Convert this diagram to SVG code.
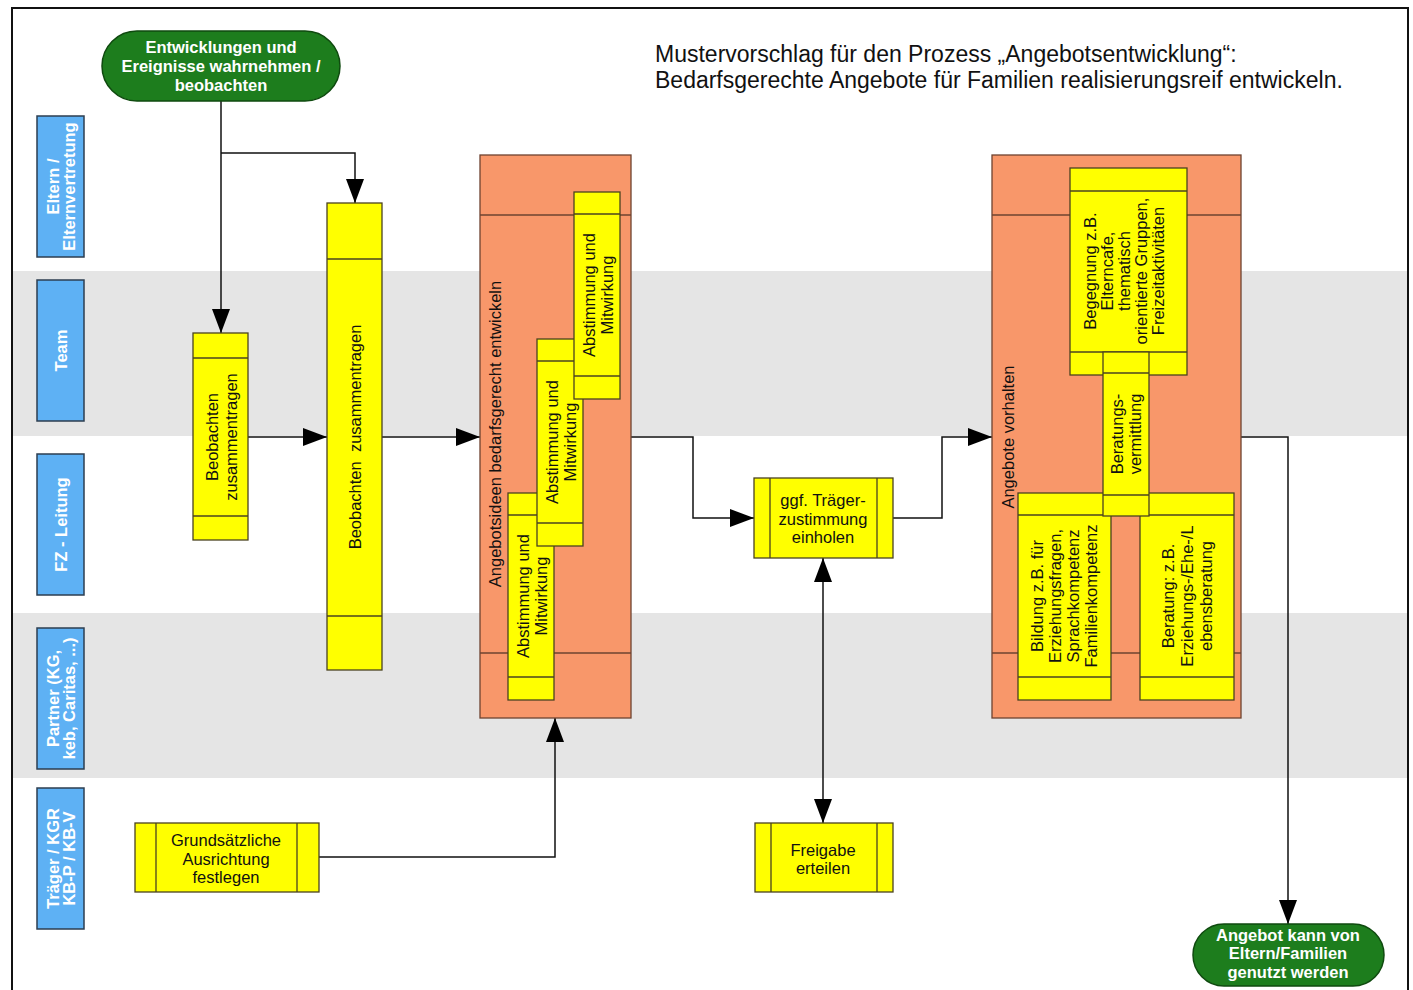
<svg xmlns="http://www.w3.org/2000/svg" width="1413" height="990" viewBox="0 0 1413 990">
<style>
.band{fill:#e5e5e5}
.lane{fill:#5eb1f4;stroke:#2d3e50;stroke-width:1.5}
.lt{font:bold 16.5px "Liberation Sans",Arial,sans-serif;fill:#fff;text-anchor:middle}
.box{fill:#ffff00;stroke:#4a4320;stroke-width:1.3}
.il{stroke:#4a4320;stroke-width:1.3}
.org{fill:#f8976a;stroke:#6e4330;stroke-width:1.3}
.ol{stroke:#6e4330;stroke-width:1.3}
.t{font:16.5px "Liberation Sans",Arial,sans-serif;fill:#111;text-anchor:middle}
.oval{fill:#1d7d1d;stroke:#0f4a0f;stroke-width:1.5}
.ot{font:bold 16.5px "Liberation Sans",Arial,sans-serif;fill:#fff;text-anchor:middle}
.title{font:23px "Liberation Sans",Arial,sans-serif;fill:#111}
.c{stroke:#111;stroke-width:1.5;fill:none}
</style>
<defs>
<marker id="ah" markerUnits="userSpaceOnUse" markerWidth="24" markerHeight="18" refX="24" refY="9" orient="auto-start-reverse" viewBox="0 0 24 18">
<path d="M0,0 L24,9 L0,18 z" fill="#000"/>
</marker>
</defs>
<rect x="0" y="0" width="1413" height="990" fill="#fff"/>
<g id="lanes-bg">
<rect class="band" x="13" y="271" width="1394" height="165"/>
<rect class="band" x="13" y="613" width="1394" height="165"/>
<rect x="12" y="8" width="1396" height="1000" fill="none" stroke="#111" stroke-width="2"/>
</g>
<g id="lane-eltern">
<rect class="lane" x="37" y="116" width="47" height="141"/>
<text class="lt" transform="translate(61,186.5) rotate(-90)"><tspan x="0" y="-2.4">Eltern /</tspan><tspan x="0" y="14">Elternvertretung</tspan></text>
</g>
<g id="lane-team">
<rect class="lane" x="37" y="280" width="47" height="141"/>
<text class="lt" transform="translate(61,350.5) rotate(-90)"><tspan x="0" y="5.8">Team</tspan></text>
</g>
<g id="lane-fz">
<rect class="lane" x="37" y="454" width="47" height="141"/>
<text class="lt" transform="translate(61,524.5) rotate(-90)"><tspan x="0" y="5.8">FZ - Leitung</tspan></text>
</g>
<g id="lane-partner">
<rect class="lane" x="37" y="628" width="47" height="141"/>
<text class="lt" transform="translate(61,698.5) rotate(-90)"><tspan x="0" y="-2.4">Partner (KG,</tspan><tspan x="0" y="14">keb, Caritas, ...)</tspan></text>
</g>
<g id="lane-traeger">
<rect class="lane" x="37" y="788" width="47" height="141"/>
<text class="lt" transform="translate(61,858.5) rotate(-90)"><tspan x="0" y="-2.4">Träger / KGR</tspan><tspan x="0" y="14">KB-P / KB-V</tspan></text>
</g>
<g id="title">
<text class="title" x="655" y="62">Mustervorschlag für den Prozess „Angebotsentwicklung“:</text>
<text class="title" x="655" y="88">Bedarfsgerechte Angebote für Familien realisierungsreif entwickeln.</text>
</g>
<g id="connectors">
<path class="c" d="M221,101 V333" marker-end="url(#ah)"/>
<path class="c" d="M221,153 H355 V203" marker-end="url(#ah)"/>
<path class="c" d="M248,437 H327" marker-end="url(#ah)"/>
<path class="c" d="M382,437 H480" marker-end="url(#ah)"/>
<path class="c" d="M631,437 H693 V518 H754" marker-end="url(#ah)"/>
<path class="c" d="M893,518 H942 V437 H992" marker-end="url(#ah)"/>
<path class="c" d="M823,558 V823" marker-start="url(#ah)" marker-end="url(#ah)"/>
<path class="c" d="M319,857 H555 V718" marker-end="url(#ah)"/>
<path class="c" d="M1241,437 H1288 V924" marker-end="url(#ah)"/>
</g>
<g id="start">
<rect class="oval" x="102" y="31" width="238" height="70" rx="35"/>
<text class="ot"><tspan x="221" y="52.5">Entwicklungen und</tspan><tspan x="221" y="71.5">Ereignisse wahrnehmen /</tspan><tspan x="221" y="90.5">beobachten</tspan></text>
</g>
<g id="beobachten1">
<rect class="box" x="193" y="333" width="55" height="207"/>
<line class="il" x1="193" y1="358" x2="248" y2="358"/>
<line class="il" x1="193" y1="516" x2="248" y2="516"/>
<text class="t" transform="translate(222,437) rotate(-90)"><tspan x="0" y="-3.7">Beobachten</tspan><tspan x="0" y="15.3">zusammentragen</tspan></text>
</g>
<g id="beobachten2">
<rect class="box" x="327" y="203" width="55" height="467"/>
<line class="il" x1="327" y1="259" x2="382" y2="259"/>
<line class="il" x1="327" y1="616" x2="382" y2="616"/>
<text class="t" transform="translate(355,437) rotate(-90)" style="white-space:pre"><tspan x="0" y="5.8">Beobachten  zusammentragen</tspan></text>
</g>
<g id="angebotsideen">
<rect class="org" x="480" y="155" width="151" height="563"/>
<line class="ol" x1="480" y1="215" x2="631" y2="215"/>
<line class="ol" x1="480" y1="653" x2="631" y2="653"/>
<text class="t" transform="translate(495,434) rotate(-90)"><tspan x="0" y="5.8">Angebotsideen bedarfsgerecht entwickeln</tspan></text>
</g>
<g id="abstimmung-c">
<rect class="box" x="508" y="493" width="46" height="207"/>
<line class="il" x1="508" y1="515" x2="554" y2="515"/>
<line class="il" x1="508" y1="677" x2="554" y2="677"/>
<text class="t" transform="translate(532,596) rotate(-90)"><tspan x="0" y="-3.2">Abstimmung und</tspan><tspan x="0" y="14.8">Mitwirkung</tspan></text>
</g>
<g id="abstimmung-b">
<rect class="box" x="537" y="339" width="46" height="207"/>
<line class="il" x1="537" y1="361" x2="583" y2="361"/>
<line class="il" x1="537" y1="523" x2="583" y2="523"/>
<text class="t" transform="translate(561,442) rotate(-90)"><tspan x="0" y="-3.2">Abstimmung und</tspan><tspan x="0" y="14.8">Mitwirkung</tspan></text>
</g>
<g id="abstimmung-a">
<rect class="box" x="574" y="192" width="46" height="207"/>
<line class="il" x1="574" y1="214" x2="620" y2="214"/>
<line class="il" x1="574" y1="376" x2="620" y2="376"/>
<text class="t" transform="translate(598,295) rotate(-90)"><tspan x="0" y="-3.2">Abstimmung und</tspan><tspan x="0" y="14.8">Mitwirkung</tspan></text>
</g>
<g id="traegerzustimmung">
<rect class="box" x="754" y="478" width="139" height="80"/>
<line class="il" x1="770" y1="478" x2="770" y2="558"/>
<line class="il" x1="877" y1="478" x2="877" y2="558"/>
<text class="t"><tspan x="823" y="505.8">ggf. Träger-</tspan><tspan x="823" y="524.8">zustimmung</tspan><tspan x="823" y="542.8">einholen</tspan></text>
</g>
<g id="freigabe">
<rect class="box" x="755" y="823" width="138" height="69"/>
<line class="il" x1="771" y1="823" x2="771" y2="892"/>
<line class="il" x1="877" y1="823" x2="877" y2="892"/>
<text class="t"><tspan x="823" y="855.8">Freigabe</tspan><tspan x="823" y="873.8">erteilen</tspan></text>
</g>
<g id="grundsaetzlich">
<rect class="box" x="135" y="823" width="184" height="69"/>
<line class="il" x1="156" y1="823" x2="156" y2="892"/>
<line class="il" x1="297" y1="823" x2="297" y2="892"/>
<text class="t"><tspan x="226" y="845.8">Grundsätzliche</tspan><tspan x="226" y="864.8">Ausrichtung</tspan><tspan x="226" y="882.8">festlegen</tspan></text>
</g>
<g id="angebote-vorhalten">
<rect class="org" x="992" y="155" width="249" height="563"/>
<line class="ol" x1="992" y1="215" x2="1241" y2="215"/>
<line class="ol" x1="992" y1="653" x2="1241" y2="653"/>
<text class="t" transform="translate(1008,437) rotate(-90)"><tspan x="0" y="5.8">Angebote vorhalten</tspan></text>
</g>
<g id="begegnung">
<rect class="box" x="1070" y="168" width="117" height="207"/>
<line class="il" x1="1070" y1="191" x2="1187" y2="191"/>
<line class="il" x1="1070" y1="352" x2="1187" y2="352"/>
<text class="t" transform="translate(1124,271) rotate(-90)"><tspan x="0" y="-28.2">Begegnung z.B.</tspan><tspan x="0" y="-11.2">Elterncafe,</tspan><tspan x="0" y="5.8">thematisch</tspan><tspan x="0" y="22.8">orientierte Gruppen,</tspan><tspan x="0" y="39.8">Freizeitaktivitäten</tspan></text>
</g>
<g id="bildung">
<rect class="box" x="1018" y="493" width="93" height="207"/>
<line class="il" x1="1018" y1="515" x2="1111" y2="515"/>
<line class="il" x1="1018" y1="677" x2="1111" y2="677"/>
<text class="t" transform="translate(1064,596) rotate(-90)"><tspan x="0" y="-21.2">Bildung z.B. für</tspan><tspan x="0" y="-3.2">Erziehungsfragen,</tspan><tspan x="0" y="14.8">Sprachkompetenz</tspan><tspan x="0" y="32.8">Familienkompetenz</tspan></text>
</g>
<g id="beratung">
<rect class="box" x="1140" y="493" width="94" height="207"/>
<line class="il" x1="1140" y1="515" x2="1234" y2="515"/>
<line class="il" x1="1140" y1="677" x2="1234" y2="677"/>
<text class="t" transform="translate(1187,596) rotate(-90)"><tspan x="0" y="-13.2">Beratung: z.B.</tspan><tspan x="0" y="5.8">Erziehungs-/Ehe-/L</tspan><tspan x="0" y="24.8">ebensberatung</tspan></text>
</g>
<g id="beratungsvermittlung">
<rect class="box" x="1103" y="352" width="46" height="164"/>
<line class="il" x1="1103" y1="373" x2="1149" y2="373"/>
<line class="il" x1="1103" y1="495" x2="1149" y2="495"/>
<text class="t" transform="translate(1126,434) rotate(-90)"><tspan x="0" y="-3.2">Beratungs-</tspan><tspan x="0" y="14.8">vermittlung</tspan></text>
</g>
<g id="end">
<rect class="oval" x="1193" y="924" width="191" height="62" rx="31"/>
<text class="ot"><tspan x="1288" y="940.5">Angebot kann von</tspan><tspan x="1288" y="958.5">Eltern/Familien</tspan><tspan x="1288" y="977.5">genutzt werden</tspan></text>
</g>
</svg>
